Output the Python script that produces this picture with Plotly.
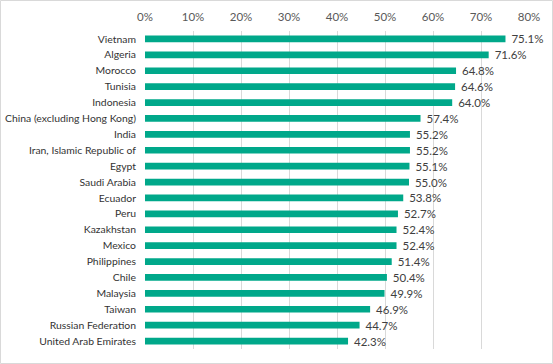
import plotly.graph_objects as go

countries = ["Vietnam", "Algeria", "Morocco", "Tunisia", "Indonesia",
             "China (excluding Hong Kong)", "India", "Iran, Islamic Republic of",
             "Egypt", "Saudi Arabia", "Ecuador", "Peru", "Kazakhstan", "Mexico",
             "Philippines", "Chile", "Malaysia", "Taiwan", "Russian Federation",
             "United Arab Emirates"]
values = [75.1, 71.6, 64.8, 64.6, 64.0, 57.4, 55.2, 55.2, 55.1, 55.0,
          53.8, 52.7, 52.4, 52.4, 51.4, 50.4, 49.9, 46.9, 44.7, 42.3]
x_ticks = [0, 10, 20, 30, 40, 50, 60, 70, 80]

W, H = 553, 364
L, R, T, B = 145, 24, 31, 15
pw, ph = W - L - R, H - T - B

fig = go.Figure(go.Bar(
    y=countries, x=[v / 100 for v in values], orientation="h",
    marker=dict(color="#00A88A", line=dict(width=0)),
    width=0.42,
    text=[f" {v:.1f}%" for v in values], textposition="outside",
    constraintext="none",
    textfont=dict(family="Lato", size=11.5, color="#404040"),
    cliponaxis=False,
    hoverinfo="skip",
))

fig.update_layout(
    width=W, height=H, margin=dict(l=L, r=R, t=T, b=B, autoexpand=False),
    paper_bgcolor="white", plot_bgcolor="white",
    showlegend=False,
    xaxis=dict(side="top", range=[0, 0.8], tickvals=[t / 100 for t in x_ticks],
               ticktext=[f"{t}%" for t in x_ticks], automargin=False,
               showgrid=True, gridcolor="#D9D9D9", gridwidth=1,
               zeroline=False, showline=False, ticks="", ticklabelstandoff=7,
               tickfont=dict(family="Lato", size=11.5, color="#595959")),
    yaxis=dict(autorange="reversed", showgrid=False, zeroline=False,
               showline=False, ticks="", ticklabelstandoff=8, automargin=False,
               tickfont=dict(family="Lato", size=10.4, color="#333333")),
    shapes=[dict(type="rect", xref="paper", yref="paper",
                 x0=-(L - 0.5) / pw, x1=1 + (R - 0.5) / pw,
                 y0=-(B - 0.5) / ph, y1=1 + (T - 0.5) / ph,
                 line=dict(color="#D9D9D9", width=1), fillcolor="rgba(0,0,0,0)")],
)

fig.write_html("out.html", config={"displayModeBar": False},
               post_script="document.body.style.margin='0';document.body.style.overflow='hidden';")
